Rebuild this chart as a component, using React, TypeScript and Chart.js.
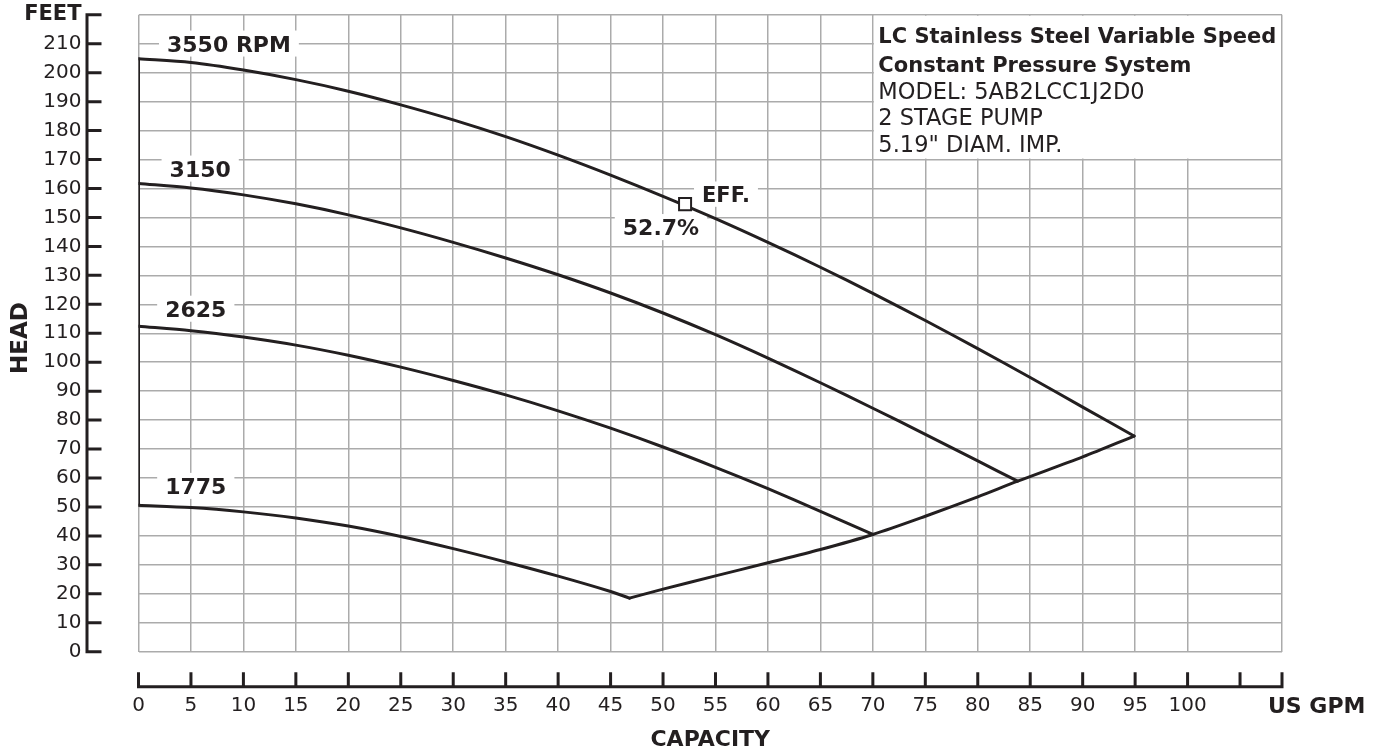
import React, { useEffect, useRef } from 'react';
import { Chart, registerables } from 'chart.js';

Chart.register(...registerables);

// ---- data (US GPM vs head in feet) ----
const xTickStep = 5;
const yTickStep = 10;
const xMax = 109;
const yMax = 220;

const curve3550X = [0, 5, 10, 15, 20, 25, 30, 35, 40, 45, 50, 55, 60, 65, 70, 75, 80, 85, 90, 94.9];
const curve3550Y = [204.8, 203.5, 200.9, 197.6, 193.6, 188.9, 183.7, 177.9, 171.5, 164.6, 157.3, 149.6, 141.4, 132.8, 123.8, 114.4, 104.7, 94.7, 84.5, 74.5];

const curve3150X = [0, 5, 10, 15, 20, 25, 30, 35, 40, 45, 50, 55, 60, 65, 70, 75, 80, 83.8];
const curve3150Y = [161.7, 160.2, 157.8, 154.7, 150.9, 146.4, 141.4, 136.0, 130.2, 123.9, 117.0, 109.5, 101.4, 92.9, 84.1, 75.1, 65.9, 58.9];

const curve2625X = [0, 5, 10, 15, 20, 25, 30, 35, 40, 45, 50, 55, 60, 65, 70];
const curve2625Y = [112.4, 110.9, 108.7, 105.9, 102.4, 98.3, 93.7, 88.7, 83.2, 77.2, 70.7, 63.7, 56.3, 48.5, 40.5];

const curve1775X = [0, 5, 10, 15, 20, 25, 30, 35, 40, 45, 46.8];
const curve1775Y = [50.6, 49.8, 48.3, 46.2, 43.4, 39.8, 35.6, 31.0, 26.1, 20.8, 18.5];

const envelopeX = [46.8, 50, 55, 60, 65, 70, 75, 80, 83.8, 90, 94.9];
const envelopeY = [18.5, 21.6, 26.2, 30.7, 35.3, 40.5, 46.8, 53.5, 58.9, 67.3, 74.5];

const shutoffX = [0, 0];
const shutoffY = [50.6, 204.8];

const effX = [52.1];
const effY = [154.6];

const rpmLabels = ['3550 RPM', '3150', '2625', '1775'];
const effLabel = 'EFF.';
const effValueLabel = '52.7%';
const infoTitle = ['LC Stainless Steel Variable Speed', 'Constant Pressure System'];
const infoLines = ['MODEL: 5AB2LCC1J2D0', '2 STAGE PUMP', '5.19" DIAM. IMP.'];
const yTopLabel = 'FEET';
const xUnitLabel = 'US GPM';
const xTitle = 'CAPACITY';
const yTitle = 'HEAD';
const xLabelMax = 100;

const pts = (xs: number[], ys: number[]) => xs.map((x, i) => ({ x, y: ys[i] }));

const INK = '#231f20';
const GRID = '#ababab';
const FAM = '"DejaVu Sans", sans-serif';

function boxedText(ctx: CanvasRenderingContext2D, text: string, cx: number, base: number, size: number) {
  ctx.font = `bold ${size}px ${FAM}`;
  const w = ctx.measureText(text).width;
  const cap = size * 0.73;
  ctx.fillStyle = '#fff';
  ctx.fillRect(cx - w / 2 - 8, base - cap - 5, w + 16, cap + 10);
  ctx.fillStyle = INK;
  ctx.textAlign = 'center';
  ctx.textBaseline = 'alphabetic';
  ctx.fillText(text, cx, base);
}

const decorPlugin = {
  id: 'decor',
  beforeDatasetsDraw(chart: any) {
    const { ctx, scales } = chart;
    const xs = scales.x;
    const ys = scales.y;
    ctx.save();
    // info box masking the grid
    const bx0 = xs.getPixelForValue(70) + 1;
    const bx1 = xs.getPixelForValue(xMax) - 1;
    const by0 = ys.getPixelForValue(yMax) + 1;
    const by1 = ys.getPixelForValue(170) - 1;
    ctx.fillStyle = '#fff';
    ctx.fillRect(bx0, by0, bx1 - bx0, by1 - by0);
    const tx = xs.getPixelForValue(70) + 5.5;
    const top = ys.getPixelForValue(yMax);
    const bases = [28.5, 57.2, 84, 110.3, 137];
    ctx.fillStyle = INK;
    ctx.textAlign = 'left';
    ctx.textBaseline = 'alphabetic';
    ctx.font = `bold 21px ${FAM}`;
    infoTitle.forEach((t, i) => ctx.fillText(t, tx, top + bases[i]));
    ctx.font = `22.5px ${FAM}`;
    infoLines.forEach((t, i) => ctx.fillText(t, tx, top + bases[i + 2]));

    // speed labels
    const rpmPos = [
      [8.62, 207.3],
      [5.88, 164.1],
      [5.46, 115.7],
      [5.46, 54.5],
    ];
    rpmLabels.forEach((t, i) => {
      boxedText(ctx, t, xs.getPixelForValue(rpmPos[i][0]), ys.getPixelForValue(rpmPos[i][1]), 22);
    });
    boxedText(ctx, effLabel, xs.getPixelForValue(56.0), ys.getPixelForValue(155.4), 21);
    boxedText(ctx, effValueLabel, xs.getPixelForValue(49.8), ys.getPixelForValue(143.9), 22);
    ctx.restore();
  },
  afterDraw(chart: any) {
    const { ctx, scales, chartArea } = chart;
    const xs = scales.x;
    const ys = scales.y;
    ctx.save();
    ctx.strokeStyle = INK;
    ctx.lineWidth = 3;
    ctx.lineCap = 'butt';
    // y axis line and ticks
    const ax = chartArea.left - 51.5;
    ctx.beginPath();
    ctx.moveTo(ax, ys.getPixelForValue(yMax) - 1.5);
    ctx.lineTo(ax, ys.getPixelForValue(0) + 1.5);
    for (let v = 0; v <= yMax; v += yTickStep) {
      const p = ys.getPixelForValue(v);
      ctx.moveTo(ax, p);
      ctx.lineTo(ax + 14.5, p);
    }
    ctx.stroke();
    // x axis line and ticks
    const ay = chartArea.bottom + 35;
    ctx.beginPath();
    ctx.moveTo(xs.getPixelForValue(0) - 1.5, ay);
    ctx.lineTo(xs.getPixelForValue(xMax) + 1.5, ay);
    const xt: number[] = [];
    for (let v = 0; v <= xMax; v += xTickStep) xt.push(v);
    xt.push(xMax);
    xt.forEach((v) => {
      const p = xs.getPixelForValue(v);
      ctx.moveTo(p, ay);
      ctx.lineTo(p, ay - 14.5);
    });
    ctx.stroke();

    // titles
    ctx.fillStyle = INK;
    ctx.textBaseline = 'alphabetic';
    ctx.font = `bold 22px ${FAM}`;
    ctx.textAlign = 'center';
    ctx.fillText(xTitle, xs.getPixelForValue(54.5), 746);
    ctx.textAlign = 'left';
    ctx.fillText(xUnitLabel, 1268, 713.3);
    ctx.save();
    ctx.translate(26.7, 338);
    ctx.rotate(-Math.PI / 2);
    ctx.textAlign = 'center';
    ctx.font = `bold 23px ${FAM}`;
    ctx.fillText(yTitle, 0, 0);
    ctx.restore();
    ctx.restore();
  },
};

const lineStyle = {
  showLine: true,
  borderColor: INK,
  borderWidth: 3,
  pointRadius: 0,
  fill: false,
  borderCapStyle: 'round' as const,
  borderJoinStyle: 'round' as const,
};

export default function App() {
  const ref = useRef<HTMLCanvasElement>(null);
  useEffect(() => {
    if (!ref.current) return;
    const chart = new Chart(ref.current, {
      type: 'scatter',
      data: {
        datasets: [
          {
            label: 'Efficiency',
            data: pts(effX, effY),
            showLine: false,
            pointStyle: 'rect',
            pointRadius: 8.5,
            pointBackgroundColor: '#fff',
            pointBorderColor: INK,
            pointBorderWidth: 2,
          },
          { label: '3550', data: pts(curve3550X, curve3550Y), tension: 0.3, ...lineStyle },
          { label: '3150', data: pts(curve3150X, curve3150Y), tension: 0.3, ...lineStyle },
          { label: '2625', data: pts(curve2625X, curve2625Y), tension: 0.3, ...lineStyle },
          { label: '1775', data: pts(curve1775X, curve1775Y), tension: 0.3, ...lineStyle },
          { label: 'System', data: pts(envelopeX, envelopeY), tension: 0.3, ...lineStyle },
          { label: 'Shutoff', data: pts(shutoffX, shutoffY), tension: 0, ...lineStyle },
        ] as any,
      },
      options: {
        responsive: false,
        maintainAspectRatio: false,
        animation: false,
        events: [],
        layout: { padding: { top: 14.8, right: 98, bottom: 0, left: 0 } },
        plugins: { legend: { display: false }, tooltip: { enabled: false }, title: { display: false } },
        scales: {
          x: {
            type: 'linear',
            min: 0,
            max: xMax,
            border: { display: false },
            grid: { color: GRID, lineWidth: 1.5, drawTicks: false },
            ticks: {
              stepSize: xTickStep,
              autoSkip: false,
              maxRotation: 0,
              padding: 42,
              color: INK,
              font: { family: FAM, size: 20 },
              callback: (v: any) => (Number(v) <= xLabelMax && Number(v) % xTickStep === 0 ? String(v) : ''),
            },
            afterFit: (s: any) => {
              s.height = 97.3;
              s.paddingLeft = 0;
              s.paddingRight = 0;
            },
          },
          y: {
            type: 'linear',
            min: 0,
            max: yMax,
            border: { display: false },
            grid: { color: GRID, lineWidth: 1.5, drawTicks: false },
            ticks: {
              stepSize: yTickStep,
              autoSkip: false,
              padding: 57,
              color: INK,
              font: (c: any) =>
                c.tick && c.tick.value === yMax
                  ? { family: FAM, size: 21, weight: 'bold' }
                  : { family: FAM, size: 20 },
              callback: (v: any) => (Number(v) === yMax ? yTopLabel : String(v)),
            },
            afterFit: (s: any) => {
              s.width = 138.5;
              s.paddingTop = 0;
              s.paddingBottom = 0;
            },
          },
        },
      } as any,
      plugins: [decorPlugin],
    });
    return () => chart.destroy();
  }, []);
  return (
    <div style={{ position: 'fixed', left: 0, top: 0, width: 1380, height: 749, background: '#fff' }}>
      <canvas ref={ref} width={1380} height={749} style={{ display: 'block', width: 1380, height: 749 }} />
    </div>
  );
}
